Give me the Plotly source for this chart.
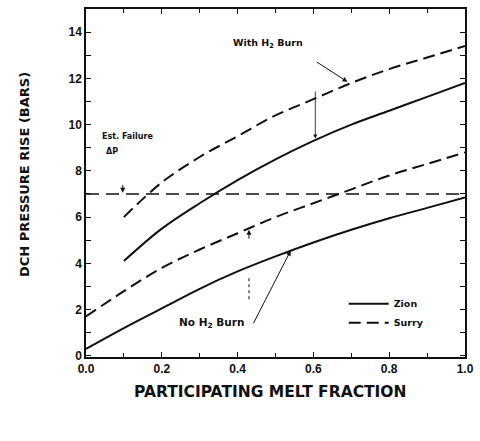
import plotly.graph_objects as go

# ---- data ----
x_h2 = [0.1, 0.2, 0.3, 0.4, 0.5, 0.6, 0.7, 0.8, 0.9, 1.0]
zion_h2 = [4.1, 5.5, 6.6, 7.6, 8.5, 9.3, 10.0, 10.6, 11.2, 11.8]
surry_h2 = [6.0, 7.5, 8.6, 9.5, 10.4, 11.1, 11.8, 12.4, 12.9, 13.4]

x_no = [0.0, 0.1, 0.2, 0.3, 0.4, 0.5, 0.6, 0.7, 0.8, 0.9, 1.0]
zion_no = [0.3, 1.2, 2.05, 2.9, 3.65, 4.3, 4.9, 5.45, 5.95, 6.4, 6.85]
surry_no = [1.7, 2.8, 3.8, 4.6, 5.3, 6.0, 6.6, 7.2, 7.8, 8.3, 8.8]

failure_x = [0.0, 1.0]
failure_dp = [7.0, 7.0]

x_ticks = [0.0, 0.2, 0.4, 0.6, 0.8, 1.0]
x_ticklabels = ["0.0", "0.2", "0.4", "0.6", "0.8", "1.0"]
y_ticks = [0, 2, 4, 6, 8, 10, 12, 14]
y_ticklabels = ["0", "2", "4", "6", "8", "10", "12", "14"]

FONT = "Liberation Sans, Arial, sans-serif"
WIDE = "DejaVu Sans, Verdana, sans-serif"
INK = "#111111"
DASH = "12px,6px"

fig = go.Figure()
fig.add_trace(go.Scatter(x=x_h2, y=zion_h2, mode="lines", line=dict(color=INK, width=2),
                         name="Zion", showlegend=True, line_shape="spline"))
fig.add_trace(go.Scatter(x=x_h2, y=surry_h2, mode="lines", line=dict(color=INK, width=2, dash=DASH),
                         name="Surry", showlegend=True, line_shape="spline"))
fig.add_trace(go.Scatter(x=x_no, y=zion_no, mode="lines", line=dict(color=INK, width=2),
                         showlegend=False, line_shape="spline"))
fig.add_trace(go.Scatter(x=x_no, y=surry_no, mode="lines", line=dict(color=INK, width=2, dash=DASH),
                         showlegend=False, line_shape="spline"))
fig.add_trace(go.Scatter(x=failure_x, y=failure_dp, mode="lines",
                         line=dict(color=INK, width=1.5, dash="13px,7px"), showlegend=False))
# invisible trace to carry the mirrored (top/right) tick axes
fig.add_trace(go.Scatter(x=failure_x, y=failure_dp, xaxis="x2", yaxis="y2", mode="lines",
                         line=dict(width=0), hoverinfo="skip", showlegend=False, opacity=0))

ann_font = dict(family=WIDE, size=9.5, color=INK, weight="bold")
small_font = dict(family=WIDE, size=8, color=INK, weight="bold")
title_font_y = dict(family=WIDE, size=13, color=INK, weight="bold")
title_font_x = dict(family=WIDE, size=15.5, color=INK, weight="bold")
annotations = [
    # axis titles
    dict(text="DCH PRESSURE RISE (BARS)", xref="paper", yref="paper", x=-0.186, y=0.523,
         textangle=-90, showarrow=False, font=title_font_y),
    dict(text="PARTICIPATING MELT FRACTION", xref="paper", yref="paper", x=0.487, y=-0.132,
         showarrow=False, font=title_font_x),
    # labels
    dict(text="Est. Failure", x=0.037, y=9.5, xanchor="left", showarrow=False, font=small_font),
    dict(text="ΔP", x=0.047, y=8.85, xanchor="left", showarrow=False, font=small_font),
    dict(text="With H<sub>2</sub> Burn", x=0.48, y=13.5, showarrow=False, font=ann_font),
    dict(text="No H<sub>2</sub> Burn", x=0.331, y=1.4, showarrow=False,
         font=dict(family=WIDE, size=10.5, color=INK, weight="bold")),
    # arrows
    dict(x=0.69, y=11.85, ax=0.605, ay=12.75, axref="x", ayref="y", showarrow=True,
         arrowhead=2, arrowsize=1, arrowwidth=1, arrowcolor=INK, text=""),
    dict(x=0.605, y=9.4, ax=0.605, ay=11.5, axref="x", ayref="y", showarrow=True,
         arrowhead=2, arrowsize=1, arrowwidth=0.8, arrowcolor=INK, text=""),
    dict(x=0.54, y=4.55, ax=0.44, ay=1.35, axref="x", ayref="y", showarrow=True,
         arrowhead=2, arrowsize=1, arrowwidth=1, arrowcolor=INK, text=""),
    dict(x=0.43, y=5.45, ax=0.43, ay=5.0, axref="x", ayref="y", showarrow=True,
         arrowhead=2, arrowsize=1, arrowwidth=1, arrowcolor=INK, text=""),
    dict(x=0.097, y=7.05, ax=0.097, ay=7.45, axref="x", ayref="y", showarrow=True,
         arrowhead=2, arrowsize=1, arrowwidth=1, arrowcolor=INK, text=""),
]

shapes = [
    dict(type="line", x0=0.43, x1=0.43, y0=2.45, y1=3.45, xref="x", yref="y",
         line=dict(color=INK, width=1, dash="dot")),
]

axis_common = dict(showgrid=False, zeroline=False, showline=True, linecolor=INK, linewidth=1.5,
                   mirror=True, ticks="inside", ticklen=5, tickwidth=1.2, tickcolor=INK,
                   ticklabeloverflow="allow",
                   tickfont=dict(family=FONT, size=12, color=INK, weight="bold"))

X_RANGE = [0, 1.0]
Y_RANGE = [-0.05, 15.0]

fig.update_layout(
    xaxis=dict(range=X_RANGE, tickvals=x_ticks, ticktext=x_ticklabels,
               minor=dict(dtick=0.1, ticks="inside", ticklen=4, tickcolor=INK), **axis_common),
    yaxis=dict(range=Y_RANGE, tickvals=y_ticks, ticktext=y_ticklabels,
               minor=dict(dtick=1, ticks="inside", ticklen=5, tickcolor=INK), **axis_common),
    xaxis2=dict(range=X_RANGE, overlaying="x", side="top", anchor="y2", showgrid=False,
                zeroline=False, showticklabels=False, tickvals=x_ticks, ticks="inside",
                ticklen=5, tickwidth=1.2, tickcolor=INK,
                minor=dict(dtick=0.1, ticks="inside", ticklen=4, tickcolor=INK)),
    yaxis2=dict(range=Y_RANGE, overlaying="y", side="right", anchor="x2", showgrid=False,
                zeroline=False, showticklabels=False, tickvals=y_ticks, ticks="inside",
                ticklen=5, tickwidth=1.2, tickcolor=INK,
                minor=dict(dtick=1, ticks="inside", ticklen=5, tickcolor=INK)),
    width=480, height=441, autosize=False,
    margin=dict(l=86, r=6, t=9, b=84),
    plot_bgcolor="white", paper_bgcolor="white",
    annotations=annotations, shapes=shapes,
    legend=dict(x=0.68, y=0.195, xanchor="left", yanchor="top", bgcolor="rgba(0,0,0,0)",
                font=dict(family=WIDE, size=9.5, color=INK, weight="bold"),
                tracegroupgap=0, itemwidth=40),
    showlegend=True,
)

fig.write_html(
    "out.html",
    config={"responsive": False, "displayModeBar": False},
    post_script="document.body.style.margin='0';document.body.style.overflow='hidden';",
)
